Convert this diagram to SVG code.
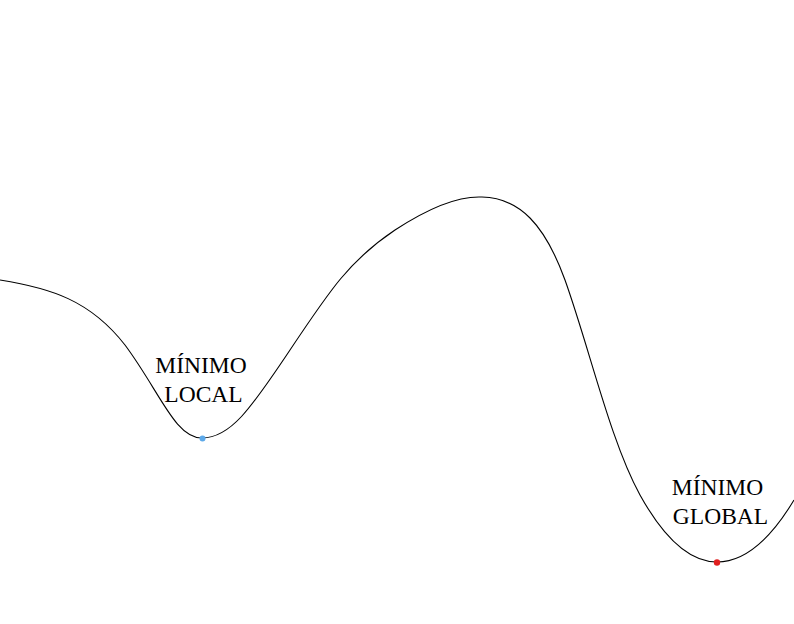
<svg xmlns="http://www.w3.org/2000/svg" width="794" height="624" viewBox="0 0 794 624">
<style>
.lbl{font-family:"Liberation Serif","Times New Roman",serif;font-size:23.5px;fill:#000;text-anchor:middle}
.curve{fill:none;stroke:#000;stroke-width:1.1}
</style>
<rect width="794" height="624" fill="#fff"/>
<g id="connectors">
<path class="curve" d="M0,280 C50,288 90,300 125,345 C160,392 175,438 202,438 C230,438 250,410 290,350 C330,290 350,260 395,230 C430,207 460,196 482,197 C520,198 545,225 565,280 C590,350 610,440 640,495 C665,540 690,562 717,562 C745,562 770,540 794,500"/>
</g>
<g id="local-min">
<circle cx="202.5" cy="438.5" r="3" fill="#5DA9E9"/>
<text class="lbl"><tspan x="201" y="373">MÍNIMO</tspan><tspan x="203.5" y="402">LOCAL</tspan></text>
</g>
<g id="global-min">
<circle cx="717" cy="562.5" r="3.2" fill="#E02020"/>
<text class="lbl"><tspan x="717.5" y="495">MÍNIMO</tspan><tspan x="720.5" y="524">GLOBAL</tspan></text>
</g>
</svg>
